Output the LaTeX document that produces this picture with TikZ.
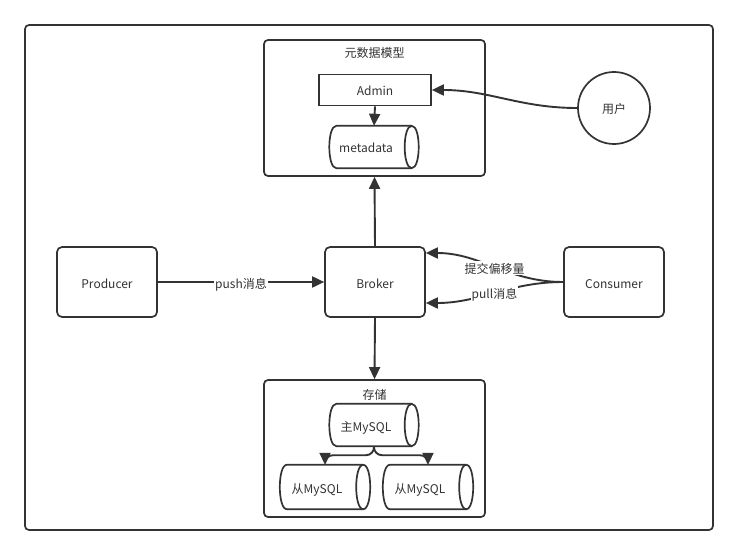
\documentclass[tikz,border=0pt]{standalone}
\usepackage{fontspec}
\setmainfont{Noto Sans CJK SC}
\usetikzlibrary{arrows.meta,calc}

\definecolor{ink}{HTML}{333333}

% horizontal cylinder outline around a node: body plus the visible right end
\newcommand{\dbr}{7}
\newcommand{\dbk}{9.33}
\newcommand{\dbdraw}[1]{%
  \coordinate (#1-tl) at ($(#1.north west)+(\dbr,0)$);
  \coordinate (#1-tr) at ($(#1.north east)+(-\dbr,0)$);
  \coordinate (#1-bl) at ($(#1.south west)+(\dbr,0)$);
  \coordinate (#1-br) at ($(#1.south east)+(-\dbr,0)$);
  \draw[dbline] (#1-tl) -- (#1-tr)
    .. controls +(\dbk,0) and +(\dbk,0) .. (#1-br) -- (#1-bl)
    .. controls +(-\dbk,0) and +(-\dbk,0) .. (#1-tl) -- cycle;
  \draw[dbline] (#1-tr) .. controls +(-\dbk,0) and +(-\dbk,0) .. (#1-br);}

\begin{document}
\begin{tikzpicture}[x=1pt,y=-1pt,
  every node/.style={font=\fontsize{12}{14}\selectfont, text=ink, text height=12pt, text depth=0pt},
  frame/.style={draw=ink, line width=1.7pt, rounded corners=4pt},
  box/.style={draw=ink, line width=1.7pt, rounded corners=5pt, minimum width=100pt, minimum height=70pt},
  group/.style={draw=ink, line width=1.7pt, rounded corners=4pt, minimum width=221pt, minimum height=136pt},
  plainbox/.style={draw=ink, line width=1.7pt, minimum width=112pt, minimum height=31pt},
  db/.style={minimum width=89pt, minimum height=42pt, inner sep=0pt,
    execute at begin node={\hspace*{-16pt}}},
  dbline/.style={draw=ink, line width=1.7pt, line join=round},
  user/.style={circle, draw=ink, line width=1.7pt, minimum size=72pt, inner sep=0pt},
  edge/.style={draw=ink, line width=1.9pt},
  arrow/.style={edge, -{Triangle[length=12pt,width=11pt]}},
  lbl/.style={fill=white, inner sep=1pt}
]
\useasboundingbox (0,0) rectangle (738,556);
\fill[white] (0,0) rectangle (738,556);

% outer frame
\draw[frame] (25,25) rectangle (713,530);

% metadata group
\node[group] (meta) at (374.5,108) {};
\node (metatitle) at (374.5,52) {元数据模型};
\node[plainbox] (admin) at (375,90) {Admin};
\node[db] (metadata) at (374,147) {metadata};
\dbdraw{metadata}
\node[user] (user) at (614,108) {用户};

% main row
\node[box] (producer) at (107,282) {Producer};
\node[box] (broker) at (375,282) {Broker};
\node[box] (consumer) at (614,282) {Consumer};

% storage group
\node[group, minimum height=137pt] (store) at (374.5,448.5) {};
\node (storetitle) at (374.5,393) {存储};
\node[db] (master) at (374,425) {主MySQL};
\dbdraw{master}
\node[db, minimum width=90pt, minimum height=44pt] (slaveA) at (325,487) {从MySQL};
\dbdraw{slaveA}
\node[db, minimum width=90pt, minimum height=44pt] (slaveB) at (428,487) {从MySQL};
\dbdraw{slaveB}

% connectors
\draw[arrow] (admin.south) -- (metadata.north);
\draw[arrow] (user.west) to[out=180,in=0] (admin.east);
\draw[arrow] (broker.north) -- (meta.south);
\draw[arrow] (broker.south) -- (store.north);
\draw[arrow] (producer.east) -- node[lbl]{push消息} (broker.west);
\draw[arrow] (consumer.west) to[out=180,in=0] node[lbl]{提交偏移量} ([yshift=29pt]broker.east);
\draw[arrow] (consumer.west) to[out=180,in=0] node[lbl]{pull消息} ([yshift=-21pt]broker.east);
\draw[arrow, rounded corners=8pt] (master.south) -- ++(0,9) -| (slaveA.north);
\draw[arrow, rounded corners=8pt] (master.south) -- ++(0,9) -| (slaveB.north);
\end{tikzpicture}
\end{document}
